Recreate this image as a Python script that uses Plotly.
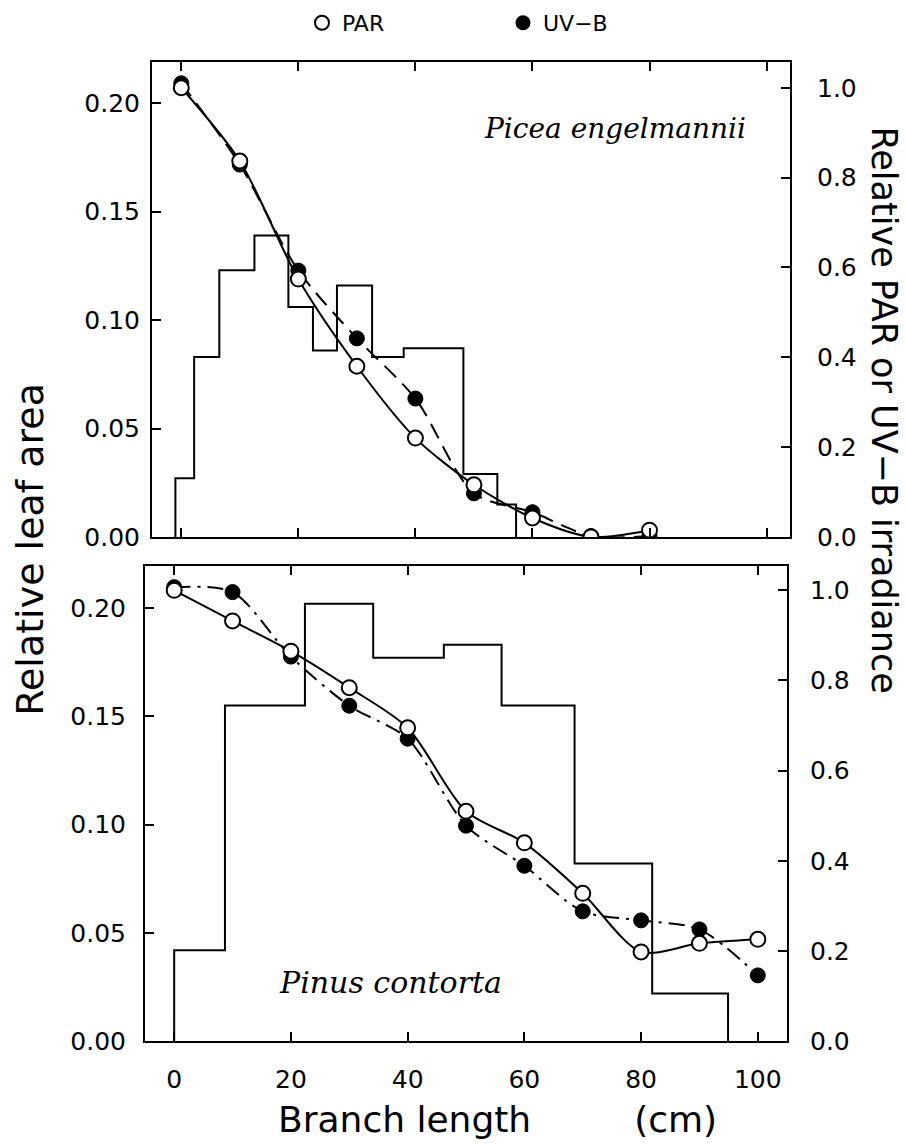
import plotly.graph_objects as go

# ---------------- data ----------------
x_ticks = [0, 20, 40, 60, 80, 100]
left_ticks = [0.00, 0.05, 0.10, 0.15, 0.20]
right_ticks = [0.0, 0.2, 0.4, 0.6, 0.8, 1.0]

# Picea engelmannii (top panel)
picea_bin_edges = [-1.0, 2.2, 6.5, 12.5, 18.3, 22.5, 26.6, 32.6, 38.0, 48.2, 54.0, 57.2]
picea_leaf_area = [0.027, 0.083, 0.123, 0.139, 0.106, 0.086, 0.116, 0.083, 0.087, 0.029, 0.015]
picea_x = [0, 10, 20, 30, 40, 50, 60, 70, 80]
picea_par = [1.00, 0.837, 0.574, 0.380, 0.220, 0.116, 0.042, 0.000, 0.015]
picea_uvb = [1.01, 0.829, 0.593, 0.442, 0.308, 0.097, 0.055, 0.002, 0.002]

# Pinus contorta (bottom panel)
pinus_bin_edges = [0.0, 8.7, 22.4, 34.1, 46.2, 56.1, 68.6, 81.9, 94.9]
pinus_leaf_area = [0.042, 0.155, 0.202, 0.177, 0.183, 0.155, 0.082, 0.022]
pinus_x = [0, 10, 20, 30, 40, 50, 60, 70, 80, 90, 100]
pinus_par = [1.00, 0.932, 0.865, 0.784, 0.695, 0.510, 0.440, 0.328, 0.198, 0.217, 0.226]
pinus_uvb = [1.007, 0.996, 0.853, 0.744, 0.671, 0.478, 0.389, 0.288, 0.268, 0.248, 0.146]

# ---------------- helpers ----------------
W, H = 906, 1147


def dx(a, b):
    return [a / W, b / W]


def dy(top, bottom):
    return [1 - bottom / H, 1 - top / H]


def step_xy(edges, heights):
    xs = [edges[0]] + list(edges[:-1]) + [edges[-1]]
    ys = [0] + list(heights) + [0]
    return xs, ys


TICKFONT = dict(family="DejaVu Sans", size=25, color="black")
open_marker = dict(symbol="circle", size=15, color="white", line=dict(color="black", width=2))
fill_marker = dict(symbol="circle", size=15, color="black", line=dict(color="black", width=1))

fig = go.Figure()

# top panel
hx, hy = step_xy(picea_bin_edges, picea_leaf_area)
fig.add_trace(go.Scatter(x=hx, y=hy, mode="lines", line=dict(color="black", width=2, shape="hv"),
                         xaxis="x", yaxis="y", showlegend=False, hoverinfo="skip"))
fig.add_trace(go.Scatter(x=picea_x, y=picea_uvb, mode="lines+markers",
                         line=dict(color="black", width=2, dash="16px,9px", shape="spline", smoothing=0.8),
                         marker=fill_marker, xaxis="x", yaxis="y2", showlegend=False))
fig.add_trace(go.Scatter(x=picea_x, y=picea_par, mode="lines+markers",
                         line=dict(color="black", width=2, shape="spline", smoothing=0.8),
                         marker=open_marker, xaxis="x", yaxis="y2", showlegend=False))

# bottom panel
hx, hy = step_xy(pinus_bin_edges, pinus_leaf_area)
fig.add_trace(go.Scatter(x=hx, y=hy, mode="lines", line=dict(color="black", width=2, shape="hv"),
                         xaxis="x2", yaxis="y3", showlegend=False, hoverinfo="skip"))
fig.add_trace(go.Scatter(x=pinus_x, y=pinus_uvb, mode="lines+markers",
                         line=dict(color="black", width=2, dash="16px,7px,3px,7px", shape="spline", smoothing=0.8),
                         marker=fill_marker, xaxis="x2", yaxis="y4", showlegend=False))
fig.add_trace(go.Scatter(x=pinus_x, y=pinus_par, mode="lines+markers",
                         line=dict(color="black", width=2, shape="spline", smoothing=0.8),
                         marker=open_marker, xaxis="x2", yaxis="y4", showlegend=False))

# legend entries
fig.add_trace(go.Scatter(x=[None], y=[None], mode="markers", name="PAR",
                         marker=dict(symbol="circle-open", size=14, color="black", line=dict(width=2)),
                         xaxis="x", yaxis="y2"))
fig.add_trace(go.Scatter(x=[None], y=[None], mode="markers", name="UV\u2212B",
                         marker=dict(symbol="circle", size=15, color="black"),
                         xaxis="x", yaxis="y2"))

common_x = dict(tickvals=x_ticks, ticks="inside", ticklen=9, tickwidth=2, tickcolor="black",
                showline=True, linewidth=2, linecolor="black", mirror="ticks",
                showgrid=False, zeroline=False, tickfont=TICKFONT, ticklabelstandoff=15)
common_left = dict(tickvals=left_ticks, ticktext=["%.2f" % v for v in left_ticks],
                   ticks="inside", ticklen=9, tickwidth=2, tickcolor="black",
                   showline=True, linewidth=2, linecolor="black", mirror=False,
                   showgrid=False, zeroline=False, tickfont=TICKFONT)
common_right = dict(tickvals=right_ticks, ticktext=["%.1f" % v for v in right_ticks],
                    ticks="inside", ticklen=9, tickwidth=2, tickcolor="black",
                    showline=True, linewidth=2, linecolor="black", side="right",
                    showgrid=False, zeroline=False, tickfont=TICKFONT)

fig.update_layout(
    width=W, height=H,
    margin=dict(l=0, r=0, t=0, b=0),
    paper_bgcolor="white", plot_bgcolor="white",
    font=dict(family="DejaVu Sans", color="black"),
    xaxis=dict(domain=dx(152, 790), range=[-5, 104], anchor="y", showticklabels=False, **common_x),
    yaxis=dict(domain=dy(63, 544), range=[0, 0.219], anchor="x", ticklabelstandoff=5, **common_left),
    yaxis2=dict(range=[0, 1.057], overlaying="y", anchor="x", ticklabelstandoff=20, **common_right),
    xaxis2=dict(domain=dx(145, 787), range=[-5, 105], anchor="y3", showticklabels=True, **common_x),
    yaxis3=dict(domain=dy(573, 1055), range=[0, 0.2196], anchor="x2", ticklabelstandoff=12, **common_left),
    yaxis4=dict(range=[0, 1.055], overlaying="y3", anchor="x2", ticklabelstandoff=16, **common_right),
    legend=dict(orientation="h", x=302 / W, y=1 - 2 / H, xanchor="left", yanchor="top",
                font=dict(family="DejaVu Sans", size=22, color="black"),
                entrywidth=156, entrywidthmode="pixels", bgcolor="rgba(0,0,0,0)"),
    showlegend=True,
)

ann = [
    dict(text="Relative leaf area", x=30 / W, y=1 - 557 / H, textangle=-90,
         font=dict(family="DejaVu Sans", size=38, color="black")),
    dict(text="Relative PAR or UV\u2212B irradiance", x=884 / W, y=1 - 415 / H, textangle=90,
         font=dict(family="DejaVu Sans", size=35, color="black")),
    dict(text="Branch length" + "\u00a0" * 9 + "(cm)", x=497 / W, y=1 - 1134 / H,
         font=dict(family="DejaVu Sans", size=36, color="black")),
    dict(text="<i>Picea engelmannii</i>", x=615 / W, y=1 - 130 / H,
         font=dict(family="DejaVu Serif", size=28, color="black")),
    dict(text="<i>Pinus contorta</i>", x=390 / W, y=1 - 996 / H,
         font=dict(family="DejaVu Serif", size=30, color="black")),
]
for a in ann:
    a.update(xref="paper", yref="paper", showarrow=False, xanchor="center", yanchor="middle")
fig.update_layout(annotations=ann)

fig.write_html("out.html")
